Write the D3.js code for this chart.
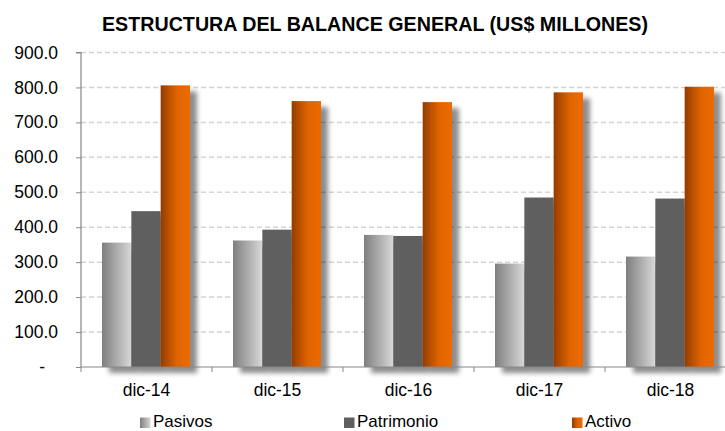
<!DOCTYPE html>
<html><head><meta charset="utf-8">
<script src="https://cdn.jsdelivr.net/npm/d3@7"></script>
<style>body{margin:0;background:#fff;} text{font-family:"Liberation Sans",Arial,sans-serif;}</style>
</head><body><svg id="c" width="725" height="431"></svg>
<script>
const categories = ["dic-14","dic-15","dic-16","dic-17","dic-18"];
const series = ["Pasivos","Patrimonio","Activo"];
const pasivos = [356, 362, 378, 296, 316];
const patrimonio = [446, 393, 375, 485, 482];
const activo = [806, 761, 758, 786, 802];
const yTicks = [0,100,200,300,400,500,600,700,800,900];
const title = "ESTRUCTURA DEL BALANCE GENERAL (US$ MILLONES)";

const values = {Pasivos: pasivos, Patrimonio: patrimonio, Activo: activo};
const svg = d3.select("#c");
const defs = svg.append("defs");
const g1 = defs.append("linearGradient").attr("id","gPas");
g1.append("stop").attr("offset","0%").attr("stop-color","#7f7f7f");
g1.append("stop").attr("offset","100%").attr("stop-color","#d8d8d8");
const g3 = defs.append("linearGradient").attr("id","gAct");
g3.append("stop").attr("offset","0%").attr("stop-color","#943c00");
g3.append("stop").attr("offset","55%").attr("stop-color","#e06400");
g3.append("stop").attr("offset","100%").attr("stop-color","#ee6a00");
const f = defs.append("filter").attr("id","sh").attr("x","-20%").attr("y","-20%").attr("width","160%").attr("height","140%");
f.append("feGaussianBlur").attr("in","SourceAlpha").attr("stdDeviation",2.5).attr("result","b");
f.append("feOffset").attr("in","b").attr("dx",7).attr("dy",6).attr("result","o");
f.append("feComponentTransfer").attr("in","o").attr("result","o2").append("feFuncA").attr("type","linear").attr("slope",0.45);
const m = f.append("feMerge"); m.append("feMergeNode").attr("in","o2"); m.append("feMergeNode").attr("in","SourceGraphic");

const fills = {Pasivos:"url(#gPas)", Patrimonio:"#5f5f5f", Activo:"url(#gAct)"};
const L = 81, R = 736, T = 52.5, B = 367;
const y = d3.scaleLinear().domain([0,900]).range([B,T]);
const x0 = d3.scaleBand().domain(categories).range([L,R]).paddingInner(0).paddingOuter(0);
const x1 = d3.scaleBand().domain(series).range([21,109]);

// gridlines
svg.append("g").selectAll("line").data(yTicks.filter(d=>d>0)).join("line")
  .attr("x1",L).attr("x2",725).attr("y1",d=>y(d)).attr("y2",d=>y(d))
  .attr("stroke","#d4d4d4").attr("stroke-width",1.5).attr("stroke-dasharray","5,3");

// bars
const grp = svg.append("g").selectAll("g").data(categories).join("g")
  .attr("transform",d=>`translate(${x0(d)},0)`).attr("filter","url(#sh)");
grp.selectAll("rect").data((c,i)=>series.map(s=>({s,v:values[s][i]}))).join("rect")
  .attr("x",d=>x1(d.s)).attr("width",x1.bandwidth()).attr("y",d=>y(d.v)).attr("height",d=>B-y(d.v))
  .attr("fill",d=>fills[d.s]);

// y axis
const ya = d3.axisLeft(y).tickValues(yTicks).tickSize(5).tickPadding(18)
  .tickFormat(d=>d===0?"-":d3.format(".1f")(d));
const yg = svg.append("g").attr("transform",`translate(${L},0)`).call(ya);
yg.select(".domain").attr("stroke","#888").attr("stroke-width",1.2).attr("d",`M-5,${T}H0V${B}`);
yg.selectAll(".tick line").attr("stroke","#888");
yg.selectAll(".tick text").attr("font-size",17.5).attr("fill","#000");
yg.selectAll(".tick").filter(d=>d===0).select("text").attr("dx",-13);

// x axis
const xa = d3.axisBottom(x0).tickSize(0).tickPadding(17);
const xg = svg.append("g").attr("transform",`translate(0,${B})`).call(xa);
xg.select(".domain").attr("stroke","#888").attr("stroke-width",1.2).attr("d",`M${L},0H725`);
xg.selectAll(".tick text").attr("font-size",17.5).attr("fill","#000");
xg.append("g").selectAll("line").data(categories).join("line")
  .attr("x1",d=>x0(d)).attr("x2",d=>x0(d)).attr("y1",0).attr("y2",5).attr("stroke","#888");

// title
svg.append("text").attr("x",375).attr("y",31).attr("text-anchor","middle")
  .attr("font-size",20.5).attr("font-weight","bold").attr("textLength",546).attr("lengthAdjust","spacingAndGlyphs")
  .attr("fill","#000").text(title);

// legend
const legX = [140, 344, 572];
const lg = svg.append("g").selectAll("g").data(series).join("g")
  .attr("transform",(d,i)=>`translate(${legX[i]},417)`);
lg.append("rect").attr("width",10.5).attr("height",10.5).attr("y",0.5).attr("fill",d=>fills[d]);
lg.append("text").attr("x",13).attr("y",10).attr("font-size",17).attr("fill","#000").text(d=>d);
</script></body></html>
